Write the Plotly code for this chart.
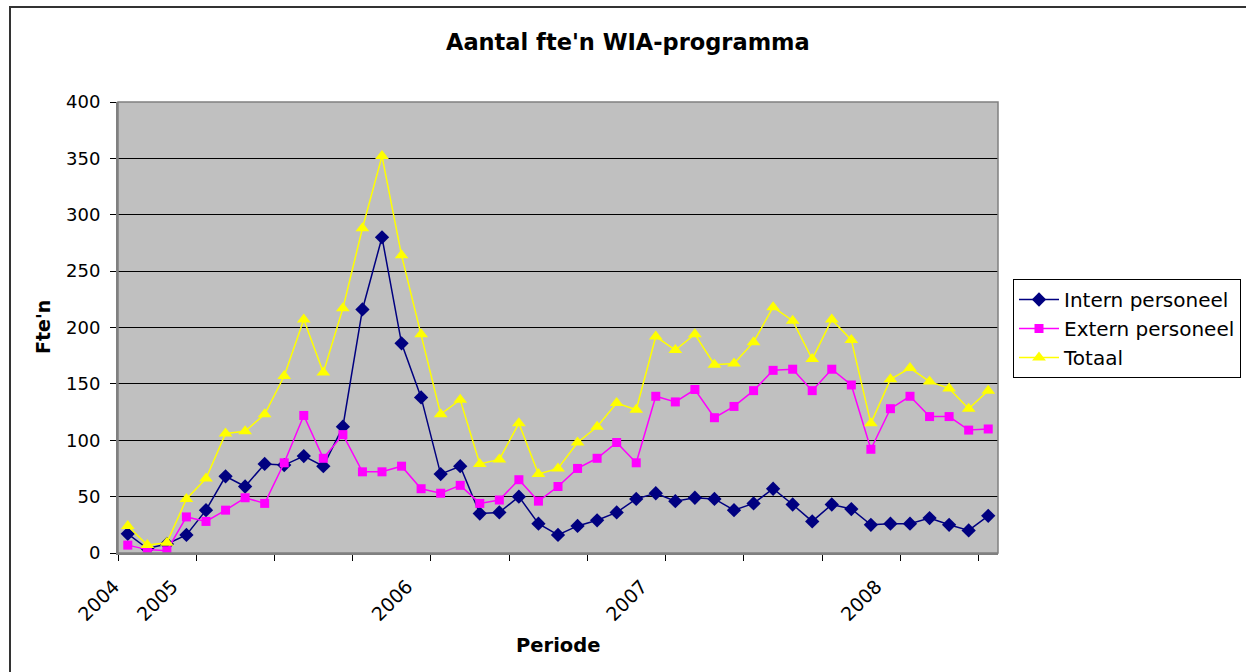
import plotly.graph_objects as go

# Period index (monthly, Oct 2004 .. Jun 2008)
periods = list(range(45))
label_positions = [0, 3, 15, 27, 39]
label_text = ["2004", "2005", "2006", "2007", "2008"]

intern = [17, 4, 8, 16, 38, 68, 59, 79, 78, 86, 77, 112, 216, 280, 186, 138, 70, 77,
          35, 36, 50, 26, 16, 24, 29, 36, 48, 53, 46, 49, 48, 38, 44, 57, 43, 28, 43,
          39, 25, 26, 26, 31, 25, 20, 33]
extern = [7, 3, 2, 32, 28, 38, 49, 44, 80, 122, 84, 105, 72, 72, 77, 57, 53, 60,
          44, 47, 65, 46, 59, 75, 84, 98, 80, 139, 134, 145, 120, 130, 144, 162, 163, 144, 163,
          149, 92, 128, 139, 121, 121, 109, 110]
totaal = [24, 7, 9, 48, 66, 106, 108, 123, 157, 207, 160, 217, 288, 352, 264, 194, 123, 136,
          79, 83, 115, 70, 75, 98, 112, 133, 127, 192, 180, 194, 167, 168, 187, 218, 206, 172, 207,
          189, 115, 154, 164, 152, 146, 128, 144]

series = [
    ("Intern personeel", intern, "#000080", "diamond", 11),
    ("Extern personeel", extern, "#FF00FF", "square", 9),
    ("Totaal", totaal, "#FFFF00", "triangle-up", 12),
]

fig = go.Figure()
for name, vals, color, sym, size in series:
    fig.add_trace(go.Scatter(
        x=periods, y=vals, name=name, mode="lines+markers",
        line=dict(color=color, width=1.5),
        marker=dict(symbol=sym, size=size, color=color, line=dict(width=0)),
    ))

FONT = "Verdana, DejaVu Sans, sans-serif"
# plot area in page pixels
L, R, T, B = 118, 998, 102, 553
W, H = 1246, 672


def px(xp):
    return (xp - L) / (R - L)


def py(yp):
    return (B - yp) / (B - T)


fig.update_layout(
    width=W, height=H,
    margin=dict(l=L, r=W - R, t=T, b=H - B, pad=0, autoexpand=False),
    paper_bgcolor="white",
    plot_bgcolor="#C0C0C0",
    font=dict(family=FONT, size=18, color="black"),
    showlegend=True,
    legend=dict(
        x=px(1013), y=py(279), xanchor="left", yanchor="top",
        bgcolor="white", bordercolor="black", borderwidth=1,
        font=dict(family=FONT, size=20), tracegroupgap=0, itemwidth=40,
    ),
    xaxis=dict(
        range=[-0.5, 44.5], tickmode="array", tickvals=label_positions, ticktext=label_text,
        tickangle=-45, ticks="", showgrid=False, zeroline=False,
        showline=True, linecolor="#808080", linewidth=2,
        tickfont=dict(family=FONT, size=19),
        ticklabelshift=-14, ticklabelstandoff=13,
        minor=dict(tickmode="array", tickvals=[-0.5 + 4 * k for k in range(12)],
                   ticks="outside", ticklen=6, tickcolor="black", tickwidth=1, showgrid=False),
    ),
    yaxis=dict(
        range=[0, 400], tickmode="linear", tick0=0, dtick=50,
        ticks="outside", ticklen=6, tickcolor="black",
        showgrid=True, gridcolor="black", gridwidth=1, zeroline=False,
        showline=True, linecolor="#808080", linewidth=2,
        tickfont=dict(family=FONT, size=18), ticklabelstandoff=6,
    ),
    annotations=[
        dict(text="<b>Aantal fte'n WIA-programma</b>", xref="paper", yref="paper",
             x=px(628), y=py(42), xanchor="center", yanchor="middle", showarrow=False,
             font=dict(family=FONT, size=22.5)),
        dict(text="<b>Fte'n</b>", xref="paper", yref="paper",
             x=px(43), y=py(327), xanchor="center", yanchor="middle", showarrow=False,
             textangle=-90, font=dict(family=FONT, size=19)),
        dict(text="<b>Periode</b>", xref="paper", yref="paper",
             x=px(558), y=py(645), xanchor="center", yanchor="middle", showarrow=False,
             font=dict(family=FONT, size=19.5)),
    ],
    shapes=[
        dict(type="rect", xref="paper", yref="paper", x0=0, x1=1, y0=0, y1=1,
             line=dict(color="#808080", width=1.5), fillcolor="rgba(0,0,0,0)", layer="above"),
        dict(type="rect", xref="paper", yref="paper", x0=px(10), x1=px(1260), y0=py(690), y1=py(7),
             line=dict(color="#333333", width=2), fillcolor="rgba(0,0,0,0)", layer="above"),
    ],
)

fig.write_html(
    "out.html",
    config={"displayModeBar": False},
    post_script="document.body.style.margin='0';document.body.style.overflow='hidden';",
)
